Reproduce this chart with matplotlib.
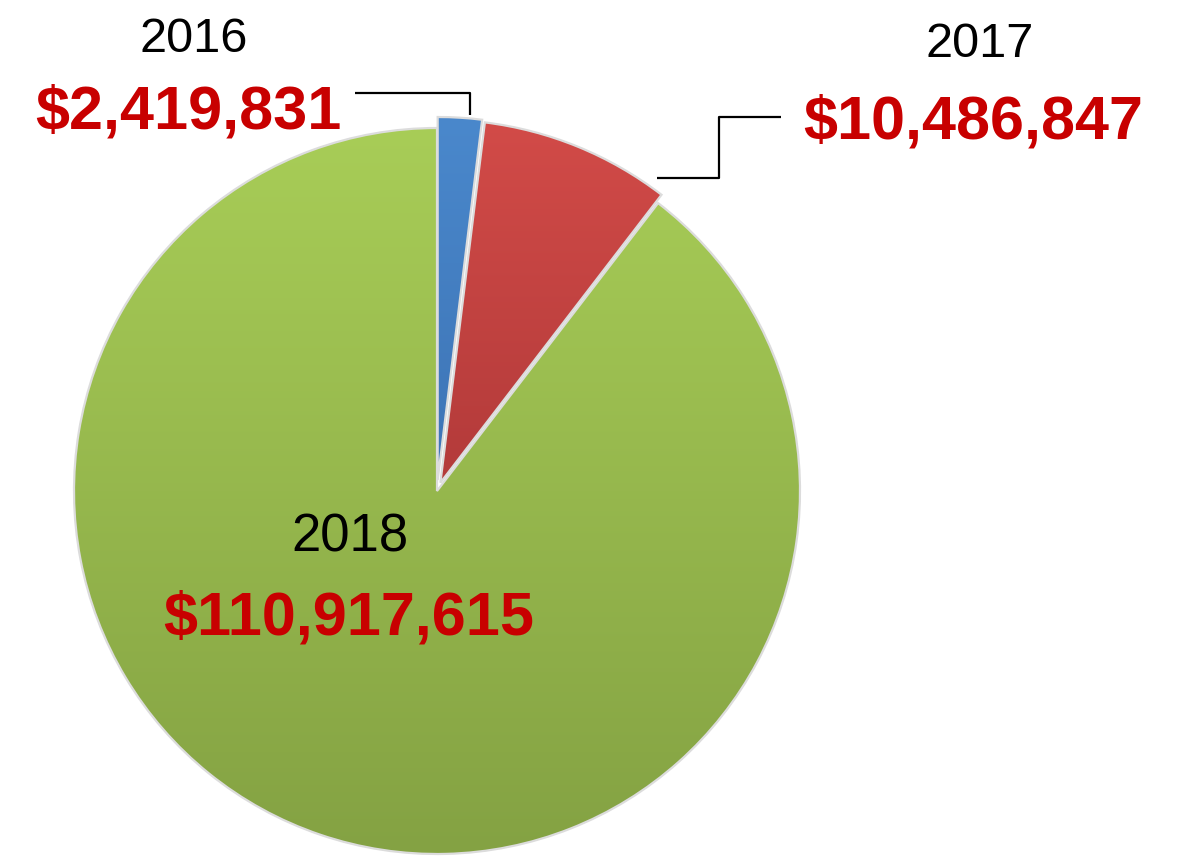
import matplotlib

matplotlib.use("Agg")
import matplotlib.pyplot as plt
import numpy as np
from matplotlib.colors import to_rgb

# data
years = ["2016", "2017", "2018"]
amounts = [2419831, 10486847, 110917615]

# layout (pixel coords, y measured from the top of the picture)
W, H = 1182, 862
CX, CY, R = 437, 492, 363
EXPLODE_PX = [11, 9, 0]
TOP = ["#4a88cc", "#d24b48", "#a8cd57"]
BOTTOM = ["#30609f", "#942a2c", "#84a243"]

YEAR_POS = [(194, 52, 35), (980, 57, 35), (350, 552, 38)]
VALUE_POS = [(188, 129), (973, 139), (349, 634)]
LEADERS = [
    ([355, 470, 470], [94, 94, 116]),
    ([657, 719, 719, 781], [179, 179, 118, 118]),
]
FONT = ["Liberation Sans", "DejaVu Sans"]


def fy(y):
    return H - y


fig = plt.figure(figsize=(W / 100, H / 100), dpi=100)
ax = fig.add_axes([0, 0, 1, 1])

wedges, _ = ax.pie(amounts, startangle=90, counterclock=False,
                   center=(CX, fy(CY)), radius=R, explode=EXPLODE_PX,
                   colors=TOP,
                   wedgeprops=dict(edgecolor="#dcdcdc", linewidth=1.6))

# vertical gradient fill, clipped to each wedge
t = np.linspace(0, 1, 256)[:, None]
for w, c0, c1 in zip(wedges, TOP, BOTTOM):
    wx, wy = w.center
    grad = (1 - t) * np.array(to_rgb(c0)) + t * np.array(to_rgb(c1))
    img = np.repeat(grad[:, None, :], 2, axis=1)
    im = ax.imshow(img, extent=(wx - R, wx + R, wy - R, wy + R),
                   origin="upper", aspect="auto", zorder=1,
                   interpolation="bilinear")
    im.set_clip_path(w)
    w.set_facecolor("none")
    w.set_zorder(2)

for xs, ys in LEADERS:
    ax.plot(xs, [fy(v) for v in ys], color="black", linewidth=1.6,
            solid_capstyle="butt", zorder=3)

for year, amt, (yx, yy, ys), (vx, vy) in zip(years, amounts, YEAR_POS, VALUE_POS):
    ax.text(yx, fy(yy), year, ha="center", va="baseline", fontsize=ys,
            family=FONT, color="black", zorder=4)
    ax.text(vx, fy(vy), f"${amt:,}", ha="center", va="baseline",
            fontsize=44, fontweight="bold", family=FONT, color="#c80000",
            zorder=4)

ax.set_xlim(0, W)
ax.set_ylim(0, H)
ax.set_aspect("auto")
ax.axis("off")

fig.savefig("out.png", dpi=100, facecolor="white")
